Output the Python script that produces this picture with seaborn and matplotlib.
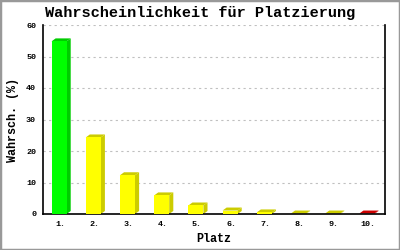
import matplotlib
matplotlib.use("Agg")
import matplotlib.pyplot as plt
import seaborn as sns
import pandas as pd
from matplotlib.patches import Polygon, Rectangle

# ---- data ----
places = ["1.", "2.", "3.", "4.", "5.", "6.", "7.", "8.", "9.", "10."]
probs = [54.8, 24.3, 12.3, 5.9, 2.7, 1.1, 0.5, 0.15, 0.15, 0.15]
front_colors = ["#00ff00", "#ffff00", "#ffff00", "#ffff00", "#ffff00",
                "#ffff00", "#ffff00", "#ffff00", "#ffff00", "#ff0000"]
side_colors = ["#00cc00", "#cccc00", "#cccc00", "#cccc00", "#cccc00",
               "#cccc00", "#cccc00", "#cccc00", "#cccc00", "#cc0000"]
y_ticks = [0, 10, 20, 30, 40, 50, 60]

title = "Wahrscheinlichkeit für Platzierung"
xlabel = "Platz"
ylabel = "Wahrsch. (%)"

df = pd.DataFrame({"Platz": places, "p": probs})

sns.set_style("white")
plt.rcParams["font.family"] = ["Liberation Mono", "DejaVu Sans Mono"]
plt.rcParams.update({"text.color": "black", "axes.labelcolor": "black",
                     "xtick.color": "black", "ytick.color": "black"})

fig = plt.figure(figsize=(4, 2.5), dpi=100)
ax = fig.add_axes([43 / 400, 1 - 214 / 250, 342 / 400, 189 / 250])

sns.barplot(data=df, x="Platz", y="p", hue="Platz", palette=front_colors,
            legend=False, width=0.44, ax=ax, zorder=3, linewidth=0,
            saturation=1)

# 3D depth derived from the drawn bars
dx, dy = 0.12, 0.95
for patch, sc in zip(ax.patches, side_colors):
    x, y = patch.get_x(), patch.get_y()
    w, h = patch.get_width(), patch.get_height()
    patch.set_x(x - 0.03)
    x = x - 0.03
    side = Polygon([(x + w, y), (x + w + dx, y + dy), (x + w + dx, y + h + dy), (x + w, y + h)],
                   closed=True, facecolor=sc, edgecolor="none", zorder=2)
    top = Polygon([(x, y + h), (x + dx, y + h + dy), (x + w + dx, y + h + dy), (x + w, y + h)],
                  closed=True, facecolor=sc, edgecolor="none", zorder=2)
    ax.add_patch(side)
    ax.add_patch(top)

ax.set_xlim(-0.5, len(places) - 0.5)
ax.set_ylim(0, 60)
ax.set_yticks(y_ticks)
ax.set_yticklabels([str(t) for t in y_ticks], fontsize=6, fontweight="bold")
ax.set_xticks(range(len(places)))
ax.set_xticklabels(places, fontsize=6, fontweight="bold")
ax.tick_params(axis="y", direction="inout", length=6, width=1, color="black", pad=2)
ax.tick_params(axis="x", length=0, pad=5)

ax.yaxis.grid(True, color="#c0c0c0", linestyle=(0, (2, 3)), linewidth=0.8, zorder=0)
ax.set_axisbelow(True)

for s in ["left", "bottom", "right"]:
    ax.spines[s].set_visible(True)
    ax.spines[s].set_color("black")
    ax.spines[s].set_linewidth(1.2)
ax.spines["top"].set_visible(False)

ax.set_xlabel(xlabel, fontsize=8.5, fontweight="bold", labelpad=4)
ax.set_ylabel(ylabel, fontsize=8.5, fontweight="bold", labelpad=5)
fig.text(0.5, 1 - 13 / 250, title, ha="center", va="center", fontsize=11, fontweight="bold")

fig.patches.append(Rectangle((0, 0), 1, 1, transform=fig.transFigure, fill=False,
                             edgecolor="#999999", linewidth=2.5))

fig.savefig("out.png", dpi=100)
